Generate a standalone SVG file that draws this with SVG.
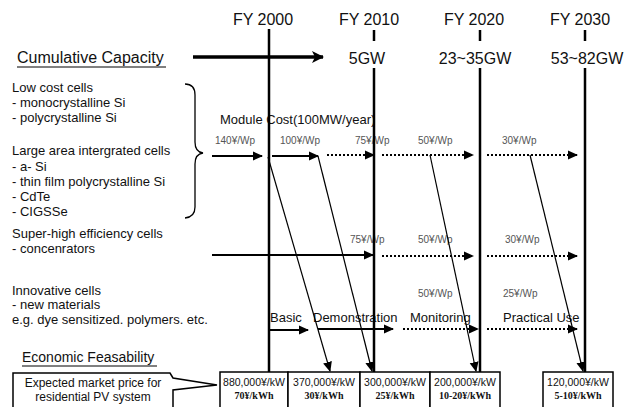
<svg xmlns="http://www.w3.org/2000/svg" width="635" height="407" viewBox="0 0 635 407">
<style>
.t{font-family:"Liberation Sans",Arial,sans-serif;fill:#111}
.yr{font-size:16px}
.lt{font-size:13px}
.ph{font-size:13px}
.cl{font-size:10px;fill:#555}
.b1{font-family:"Liberation Sans",Arial,sans-serif;font-size:10.5px;fill:#111}
.b2{font-family:"Liberation Serif","Times New Roman",serif;font-size:10px;font-weight:bold;fill:#111}
.fy{stroke:#000;stroke-width:2.5;fill:none}
.sol{stroke:#000;stroke-width:2;fill:none}
.dot{stroke:#000;stroke-width:2;stroke-dasharray:2,2;fill:none}
.dg{stroke:#000;stroke-width:1.2;fill:none}
.box{stroke:#000;stroke-width:1.5;fill:#fff}
</style>
<defs>
<marker id="ah" markerWidth="10" markerHeight="10" refX="9" refY="5" orient="auto" markerUnits="userSpaceOnUse"><path d="M0,0.5 L10,5 L0,9.5 z" fill="#000"/></marker>
<marker id="ahb" markerWidth="12" markerHeight="12" refX="11" refY="6" orient="auto" markerUnits="userSpaceOnUse"><path d="M0,0 L12,6 L0,12 L3,6 z" fill="#000"/></marker>
</defs>

<g id="years">
<text class="t yr" x="263" y="25" text-anchor="middle">FY 2000</text>
<text class="t yr" x="369" y="25" text-anchor="middle">FY 2010</text>
<text class="t yr" x="474" y="25" text-anchor="middle">FY 2020</text>
<text class="t yr" x="580" y="25" text-anchor="middle">FY 2030</text>
<text class="t yr" x="367" y="64" text-anchor="middle">5GW</text>
<text class="t yr" x="475" y="64" text-anchor="middle">23~35GW</text>
<text class="t yr" x="587" y="64" text-anchor="middle">53~82GW</text>
</g>

<g id="labels">
<text class="t yr" x="17" y="63">Cumulative Capacity</text>
<line x1="17" y1="67" x2="166" y2="67" stroke="#000" stroke-width="1"/>
<text class="t lt" x="12" y="92">Low cost cells</text>
<text class="t lt" x="12" y="107">- monocrystalline Si</text>
<text class="t lt" x="12" y="122">- polycrystalline Si</text>
<text class="t lt" x="12" y="155">Large area intergrated cells</text>
<text class="t lt" x="12" y="171">- a- Si</text>
<text class="t lt" x="12" y="186">- thin film polycrystalline Si</text>
<text class="t lt" x="12" y="201">- CdTe</text>
<text class="t lt" x="12" y="216">- CIGSSe</text>
<text class="t lt" x="12" y="238">Super-high efficiency cells</text>
<text class="t lt" x="12" y="253">- concenrators</text>
<text class="t lt" x="12" y="295">Innovative cells</text>
<text class="t lt" x="12" y="309">- new materials</text>
<text class="t lt" x="12" y="324">e.g. dye sensitized. polymers. etc.</text>
<text class="t" x="22" y="362" font-size="14">Economic Feasability</text>
<line x1="22" y1="366" x2="157" y2="366" stroke="#000" stroke-width="1"/>
<path d="M185,84 Q195,84 195,95 L195,142 Q195,152 203,153 Q195,154 195,164 L195,207 Q195,217 185,218" stroke="#000" stroke-width="1.3" fill="none"/>
<text class="t ph" x="220" y="124">Module Cost(100MW/year)</text>
</g>

<g id="callout">
<path d="M13,407 L13,373 L170,373 L173,378 L217,385 L173,390 L173,407" class="box"/>
<text class="t" font-size="12" x="93" y="387" text-anchor="middle">Expected market price for</text>
<text class="t" font-size="12" x="93" y="401" text-anchor="middle">residential PV system</text>
</g>

<g id="cost-labels">
<text class="t cl" x="215" y="144">140¥/Wp</text>
<text class="t cl" x="280" y="144">100¥/Wp</text>
<text class="t cl" x="355" y="144">75¥/Wp</text>
<text class="t cl" x="418" y="144">50¥/Wp</text>
<text class="t cl" x="502" y="144">30¥/Wp</text>
<text class="t cl" x="350" y="243">75¥/Wp</text>
<text class="t cl" x="418" y="243">50¥/Wp</text>
<text class="t cl" x="505" y="243">30¥/Wp</text>
<text class="t cl" x="418" y="297">50¥/Wp</text>
<text class="t cl" x="503" y="297">25¥/Wp</text>
</g>

<g id="phases">
<text class="t ph" x="270" y="322">Basic</text>
<text class="t ph" x="313" y="322">Demonstration</text>
<text class="t ph" x="410" y="322">Monitoring</text>
<text class="t ph" x="503" y="322">Practical Use</text>
</g>

<g id="boxes">
<rect class="box" x="220" y="372" width="68" height="36"/>
<rect class="box" x="288" y="372" width="72" height="36"/>
<rect class="box" x="360" y="372" width="70" height="36"/>
<rect class="box" x="430" y="372" width="70" height="36"/>
<rect class="box" x="543" y="372" width="70" height="36"/>
<text class="b1" x="254" y="386" text-anchor="middle">880,000¥/kW</text>
<text class="b2" x="254" y="399" text-anchor="middle">70¥/kWh</text>
<text class="b1" x="324" y="386" text-anchor="middle">370,000¥/kW</text>
<text class="b2" x="324" y="399" text-anchor="middle">30¥/kWh</text>
<text class="b1" x="395" y="386" text-anchor="middle">300,000¥/kW</text>
<text class="b2" x="395" y="399" text-anchor="middle">25¥/kWh</text>
<text class="b1" x="465" y="386" text-anchor="middle">200,000¥/kW</text>
<text class="b2" x="465" y="399" text-anchor="middle">10-20¥/kWh</text>
<text class="b1" x="578" y="386" text-anchor="middle">120,000¥/kW</text>
<text class="b2" x="578" y="399" text-anchor="middle">5-10¥/kWh</text>
</g>

<g id="connectors">
<line class="fy" x1="269" y1="29" x2="269" y2="372"/>
<line class="fy" x1="374" y1="30" x2="374" y2="41"/>
<line class="fy" x1="374" y1="68" x2="374" y2="372"/>
<line class="fy" x1="480" y1="30" x2="480" y2="41"/>
<line class="fy" x1="480" y1="68" x2="480" y2="372"/>
<line class="fy" x1="585" y1="30" x2="585" y2="41"/>
<line class="fy" x1="585" y1="68" x2="585" y2="372"/>
<line x1="193" y1="57" x2="323" y2="57" stroke="#000" stroke-width="3.5" marker-end="url(#ahb)"/>

<line class="sol" x1="212" y1="156" x2="262" y2="156" marker-end="url(#ah)"/>
<line class="sol" x1="272" y1="156" x2="318" y2="156" marker-end="url(#ah)"/>
<line class="dot" x1="327" y1="155" x2="374" y2="155" marker-end="url(#ah)"/>
<line class="dot" x1="382" y1="155" x2="473" y2="155" marker-end="url(#ah)"/>
<line class="dot" x1="487" y1="155" x2="577" y2="155" marker-end="url(#ah)"/>

<line class="sol" x1="212" y1="255" x2="373" y2="255" marker-end="url(#ah)"/>
<line class="dot" x1="382" y1="256" x2="473" y2="256" marker-end="url(#ah)"/>
<line class="dot" x1="487" y1="256" x2="577" y2="256" marker-end="url(#ah)"/>

<line class="sol" x1="269" y1="330" x2="308" y2="330" marker-end="url(#ah)"/>
<line class="sol" x1="318" y1="329" x2="393" y2="329" marker-end="url(#ah)"/>
<line class="dot" x1="403" y1="329" x2="478" y2="329" marker-end="url(#ah)"/>
<line class="dot" x1="487" y1="329" x2="577" y2="329" marker-end="url(#ah)"/>

<line class="dg" x1="268" y1="157" x2="330" y2="371" marker-end="url(#ah)"/>
<line class="dg" x1="318" y1="156" x2="372" y2="371" marker-end="url(#ah)"/>
<line class="dg" x1="430" y1="155" x2="476" y2="371" marker-end="url(#ah)"/>
<line class="dg" x1="530" y1="155" x2="583" y2="371" marker-end="url(#ah)"/>
</g>
</svg>
